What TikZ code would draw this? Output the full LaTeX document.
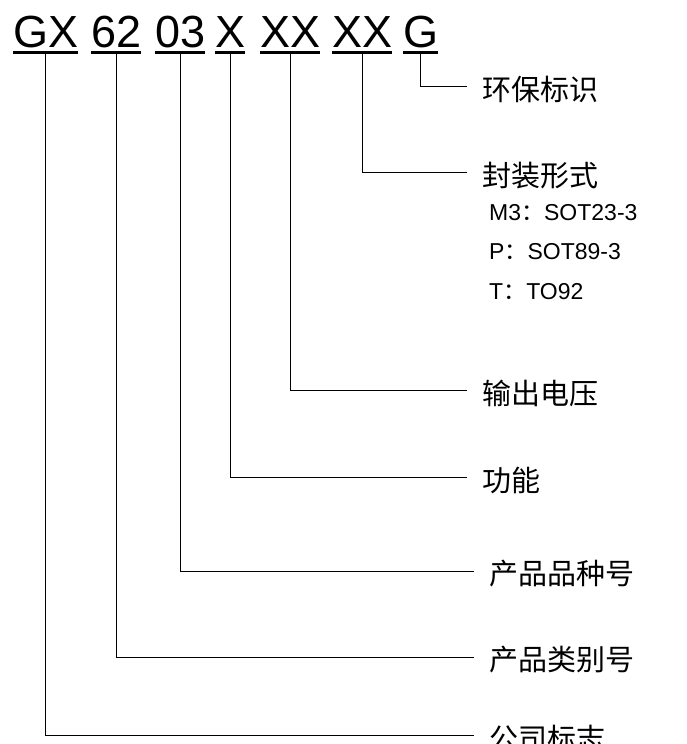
\documentclass[tikz,border=0pt]{standalone}
\usepackage{fontspec}
\setmainfont{Liberation Sans}
\newfontfamily\cjk{Noto Sans CJK SC}
\begin{document}
\begin{tikzpicture}[x=1pt,y=-1pt,
    part/.style={anchor=base west,inner sep=0pt,font=\fontsize{45}{45}\selectfont},
    lbl/.style={anchor=west,inner xsep=15pt,inner ysep=0pt,font=\cjk\fontsize{29}{29}\selectfont},
    pkg/.style={anchor=west,inner sep=0pt,font=\fontsize{23}{23}\selectfont},
    uline/.style={line width=3pt},
    lead/.style={line width=1pt}]
    \useasboundingbox (0,0) rectangle (686,744);
    % part number
    \node[part] (gx) at (13,47) {GX};
    \node[part] (p62) at (91,47) {62};
    \node[part] (p03) at (155,47) {03};
    \node[part] (fn) at (215,47) {X};
    \node[part] (vout) at (260,47) {XX};
    \node[part] (pkg) at (332,47) {XX};
    \node[part] (env) at (403,47) {G};
    \draw[uline] ([yshift=-5.7pt]gx.base west) -- ([yshift=-5.7pt]gx.base east);
    \draw[uline] ([yshift=-5.7pt]p62.base west) -- ([yshift=-5.7pt]p62.base east);
    \draw[uline] ([yshift=-5.7pt]p03.base west) -- ([yshift=-5.7pt]p03.base east);
    \draw[uline] ([yshift=-5.7pt]fn.base west) -- ([yshift=-5.7pt]fn.base east);
    \draw[uline] ([yshift=-5.7pt]vout.base west) -- ([yshift=-5.7pt]vout.base east);
    \draw[uline] ([yshift=-5.7pt]pkg.base west) -- ([yshift=-5.7pt]pkg.base east);
    \draw[uline] ([yshift=-5.7pt]env.base west) -- ([yshift=-5.7pt]env.base east);
    % labels
    \node[lbl] (lenv) at (467,89) {环保标识};
    \node[lbl] (lpkg) at (467,175.5) {封装形式};
    \node[pkg] (m3) at (489,213) {M3{\cjk ：}SOT23-3};
    \node[pkg] (p) at (489,252) {P{\cjk ：}SOT89-3};
    \node[pkg] (t) at (489,292) {T{\cjk ：}TO92};
    \node[lbl] (lvout) at (467,393) {输出电压};
    \node[lbl] (lfn) at (467,480) {功能};
    \node[lbl] (lp03) at (474,574) {产品品种号};
    \node[lbl] (lp62) at (474,660) {产品类别号};
    \node[lbl] (lgx) at (474,738) {公司标志};
    % leaders
    \draw[lead] ([yshift=-7pt]env.base) |- ([yshift=3pt]lenv.west);
    \draw[lead] ([yshift=-7pt]pkg.base) |- ([yshift=3pt]lpkg.west);
    \draw[lead] ([yshift=-7pt]vout.base) |- ([yshift=3pt]lvout.west);
    \draw[lead] ([yshift=-7pt]fn.base) |- ([yshift=3pt]lfn.west);
    \draw[lead] ([yshift=-7pt]p03.base) |- ([yshift=3pt]lp03.west);
    \draw[lead] ([yshift=-7pt]p62.base) |- ([yshift=3pt]lp62.west);
    \draw[lead] ([yshift=-7pt]gx.base) |- ([yshift=3pt]lgx.west);
\end{tikzpicture}
\end{document}
